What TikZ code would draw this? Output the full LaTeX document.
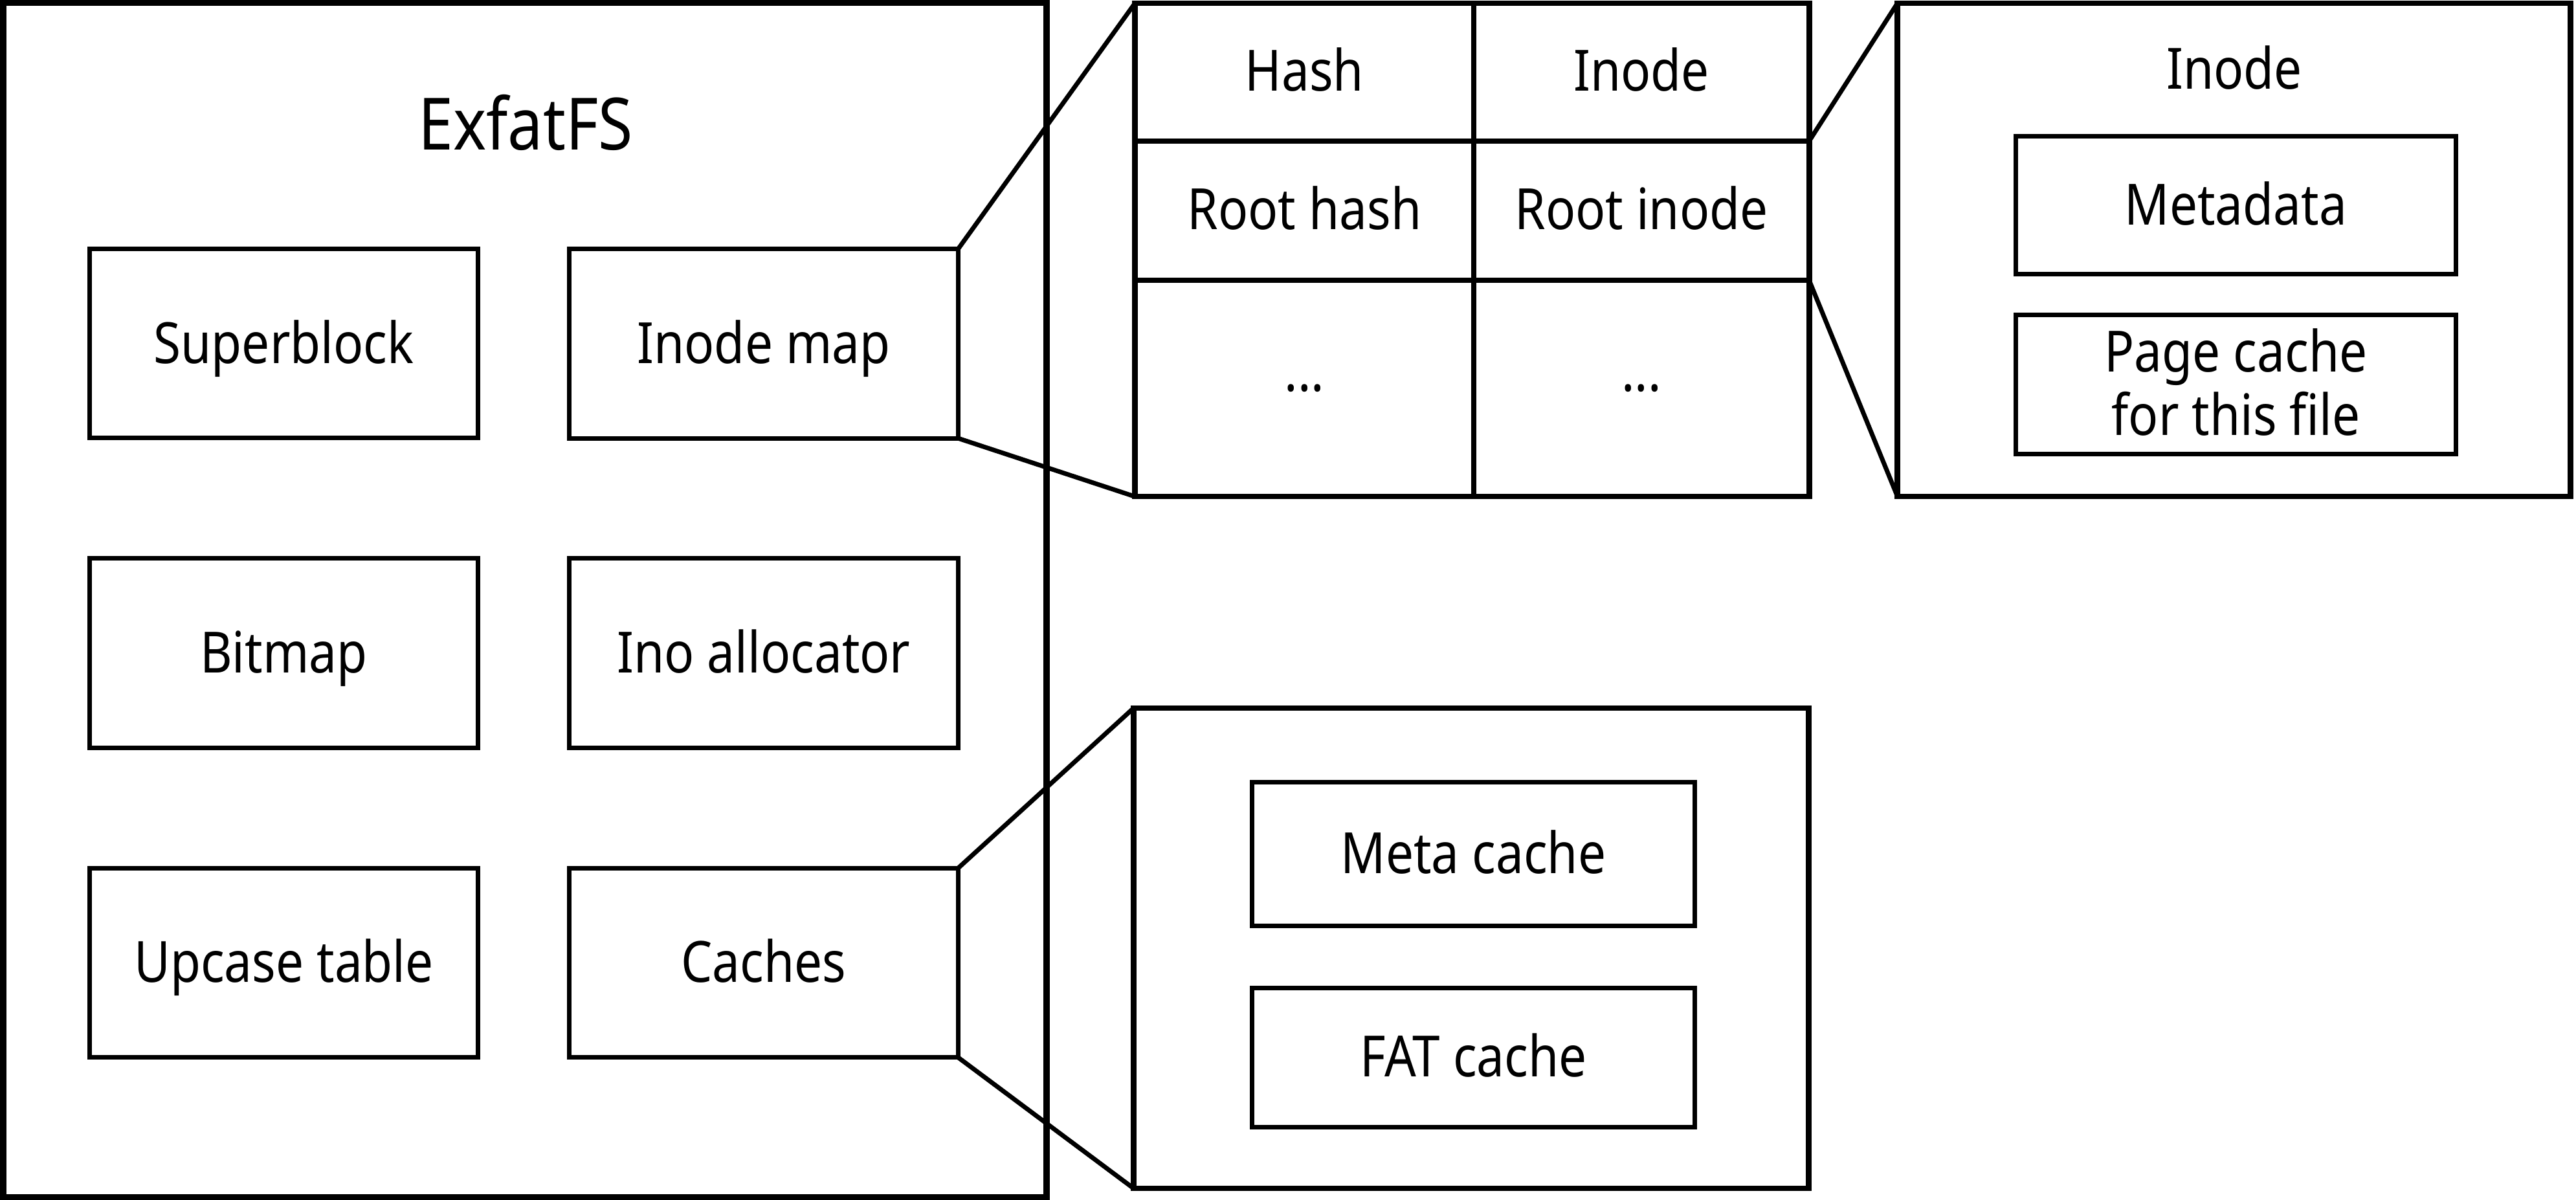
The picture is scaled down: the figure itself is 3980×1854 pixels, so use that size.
\documentclass[tikz,border=0pt]{standalone}
\usepackage{fontspec}
\setmainfont{Noto Sans}[FakeStretch=0.87]
\begin{document}
\begin{tikzpicture}[x=0.01cm,y=-0.01cm,
  outerbox/.style={draw,line width=0.1cm,outer sep=0pt,inner sep=0pt},
  contbox/.style={draw,line width=0.085cm,outer sep=0pt,inner sep=0pt},
  blk/.style={draw,line width=0.07cm,outer sep=0pt,inner sep=0pt,minimum width=6cm,minimum height=2.92cm},
  innerblk/.style={draw,line width=0.07cm,outer sep=0pt,inner sep=0pt,minimum width=6.79cm},
  cell/.style={draw,line width=0.07cm,outer sep=0pt,inner sep=0pt},
  lbl/.style={font=\fontsize{25pt}{30pt}\selectfont,anchor=base,inner sep=0pt},
  biglbl/.style={font=\fontsize{31.7pt}{38pt}\selectfont,anchor=base,inner sep=0pt},
  link/.style={line width=0.07cm}]
\useasboundingbox (0,0) rectangle (3980,1854);
% main frame
\node[outerbox,minimum width=16.12cm,minimum height=18.44cm] (frame) at (811,927) {};
\node[biglbl] (title) at (812,231) {ExfatFS};
% inner blocks
\node[blk] (sb) at (438.5,530.5) {};
\node[blk] (im) at (1180,531) {};
\node[blk] (bm) at (438.5,1009) {};
\node[blk] (ia) at (1180,1009) {};
\node[blk] (ut) at (438.5,1487.5) {};
\node[blk] (ca) at (1180,1487.5) {};
\node[lbl] (sbt) at (438.5,561) {Superblock};
\node[lbl] (imt) at (1180,561) {Inode map};
\node[lbl] (bmt) at (438.5,1039) {Bitmap};
\node[lbl] (iat) at (1180,1039) {Ino allocator};
\node[lbl] (utt) at (438.5,1517) {Upcase table};
\node[lbl] (cat) at (1180,1517) {Caches};
% table cells
\node[cell,minimum width=5.23cm,minimum height=2.13cm] (c11) at (2015.5,111.5) {};
\node[cell,minimum width=5.18cm,minimum height=2.13cm] (c12) at (2536,111.5) {};
\node[cell,minimum width=5.23cm,minimum height=2.15cm] (c21) at (2015.5,325.5) {};
\node[cell,minimum width=5.18cm,minimum height=2.15cm] (c22) at (2536,325.5) {};
\node[cell,minimum width=5.23cm,minimum height=3.34cm] (c31) at (2015.5,600) {};
\node[cell,minimum width=5.18cm,minimum height=3.34cm] (c32) at (2536,600) {};
\node[contbox,minimum width=10.41cm,minimum height=7.62cm] (tbl) at (2274.5,386) {};
\node[lbl] (t11) at (2015.5,140) {Hash};
\node[lbl] (t12) at (2536,140) {Inode};
\node[lbl] (t21) at (2015.5,354) {Root hash};
\node[lbl] (t22) at (2536,354) {Root inode};
\node[lbl] (t31) at (2015.5,604) {...};
\node[lbl] (t32) at (2536,604) {...};
% inode box
\node[contbox,minimum width=10.39cm,minimum height=7.62cm] (ibox) at (3451.5,386) {};
\node[lbl] (ibt) at (3452,137) {Inode};
\node[innerblk,minimum height=2.12cm] (md) at (3454.5,317) {};
\node[innerblk,minimum height=2.14cm] (pc) at (3454.5,594) {};
\node[lbl] (mdt) at (3454.5,347) {Metadata};
\node[lbl] (pct1) at (3454.5,574) {Page cache};
\node[lbl] (pct2) at (3454.5,672) {for this file};
% caches box
\node[contbox,minimum width=10.42cm,minimum height=7.42cm] (cbox) at (2273,1465) {};
\node[draw,line width=0.07cm,outer sep=0pt,inner sep=0pt,minimum width=6.83cm,minimum height=2.21cm] (mc) at (2276.5,1319.5) {};
\node[draw,line width=0.07cm,outer sep=0pt,inner sep=0pt,minimum width=6.83cm,minimum height=2.14cm] (fc) at (2276.5,1634) {};
\node[lbl] (mct) at (2276.5,1349) {Meta cache};
\node[lbl] (fct) at (2276.5,1663) {FAT cache};
% connectors
\draw[link] (im.north east) -- (tbl.north west);
\draw[link] (im.south east) -- (tbl.south west);
\draw[link] (c12.south east) -- (ibox.north west);
\draw[link] (c22.south east) -- (ibox.south west);
\draw[link] (ca.north east) -- (cbox.north west);
\draw[link] (ca.south east) -- (cbox.south west);
\end{tikzpicture}
\end{document}
